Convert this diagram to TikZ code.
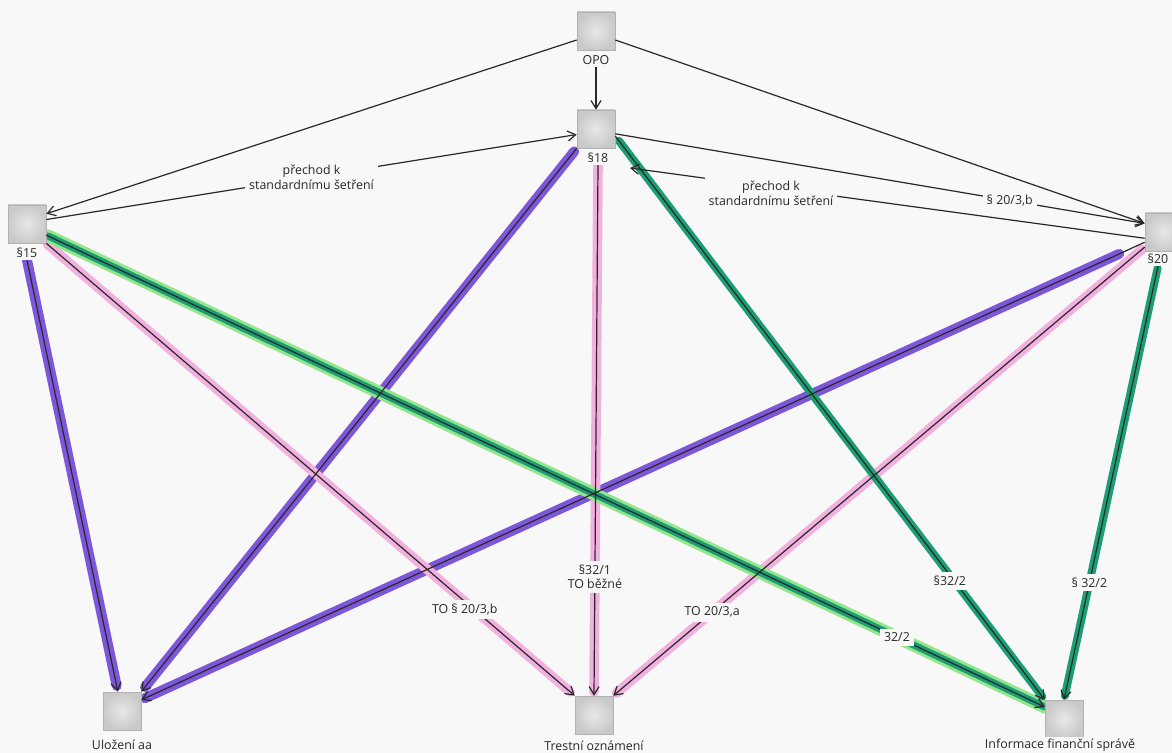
\documentclass[tikz,border=0pt]{standalone}
\usepackage{fontspec}
\setmainfont{Open Sans}
\usetikzlibrary{arrows.meta}
\definecolor{bgc}{RGB}{248,248,248}
\definecolor{hlpurple}{RGB}{126,86,218}
\definecolor{hlpink}{RGB}{242,176,222}
\definecolor{hlgreen}{RGB}{28,158,116}
\definecolor{hllight}{RGB}{150,228,140}
\definecolor{ink}{RGB}{40,40,40}
\pgfdeclarelayer{bglayer}
\pgfdeclarelayer{hllayer}
\pgfsetlayers{bglayer,hllayer,main}
\tikzset{
  box/.style={minimum size=19pt, inner sep=0pt, inner color=gray!18, outer color=gray!42, draw=gray!60, line width=0.3pt},
  boxlabel/.style={font=\fontsize{6.2pt}{7.4pt}\selectfont, text=ink, fill=bgc, inner sep=1pt},
  edgelabel/.style={font=\fontsize{6.2pt}{7.4pt}\selectfont, text=ink, fill=bgc, inner sep=2pt, align=center},
  conn/.style={draw=ink, line width=0.6pt, -{Straight Barb[length=4pt,width=5pt]}},
  hl/.style={line width=#1, line cap=round},
}
\begin{document}
\begin{tikzpicture}[x=0.5pt,y=-0.5pt]
\begin{pgfonlayer}{bglayer}
\fill[bgc] (0,0) rectangle (1172,753);
\end{pgfonlayer}
\useasboundingbox (0,0) rectangle (1172,753);
% boxes
\node[box] (opo) at (596,31) {};
\node[box] (s18) at (596,129) {};
\node[box] (s15) at (27,224) {};
\node[box] (s20) at (1164,232) {};
\node[box] (ulo) at (122,711) {};
\node[box] (tre) at (594,715) {};
\node[box] (inf) at (1064,719) {};
% box labels
\node[boxlabel] (lopo) at (596,60) {OPO};
\node[boxlabel] (l18) at (598,158) {§18};
\node[boxlabel] (l15) at (27,253) {§15};
\node[boxlabel] (l20) at (1158,259) {§20};
\node[boxlabel] (lulo) at (122,745) {Uložení aa};
\node[boxlabel] (ltre) at (594,746) {Trestní oznámení};
\node[boxlabel] (linf) at (1060,745) {Informace finanční správě};
\coordinate (s18x) at (630,168);
% highlights
\begin{pgfonlayer}{hllayer}
\draw[hlpurple, hl=5pt, shorten >=3pt] (l15.south) -- (ulo.102);
\draw[hlpurple, hl=5pt, shorten <=2pt, shorten >=3pt] (s18.south west) -- (ulo.north east);
\draw[hlpurple, hl=5pt, shorten <=14pt, shorten >=2pt] (s20.208) -- (ulo.30);
\draw[hlpink, hl=4.8pt, shorten <=1pt, shorten >=3pt] (s15.south east) -- (tre.north west);
\draw[hlpink, hl=4.8pt, shorten >=2pt] (l18.south) -- (tre.north);
\draw[hlpink, hl=4.8pt, shorten <=2pt, shorten >=2pt] (s20.218) -- (tre.north east);
\draw[hllight, hl=6.5pt, shorten <=1pt] (s15.330) -- (inf.148);
\draw[hlgreen, hl=3.5pt, shorten <=1pt] (s15.330) -- (inf.148);
\draw[hlgreen, hl=4pt, shorten <=3pt, shorten >=2pt] (s18.340) -- (inf.north west);
\draw[hlgreen, hl=4pt, shorten <=1pt, shorten >=2pt] (l20.south) -- (inf.north);
\end{pgfonlayer}
% connectors
\draw[conn] (lopo.south) -- (s18.north);
\draw[conn] (opo.205) -- (s15.28);
\draw[conn] (opo.335) -- (s20.156);
\draw[conn] (s15.13) -- node[edgelabel, pos=0.5] {přechod k\\standardnímu šetření} (s18.196);
\draw[conn] (s18.346) -- node[edgelabel, pos=0.745] {§ 20/3,b} (s20.156);
\draw[conn] (s20.198) -- node[edgelabel, pos=0.726, yshift=-3pt] {přechod k\\standardnímu šetření} (s18x);
\draw[conn] (l15.south) -- (ulo.102);
\draw[conn] (s18.south west) -- (ulo.north east);
\draw[conn] (s20.208) -- (ulo.30);
\draw[conn] (s15.south east) -- node[edgelabel, pos=0.792, yshift=-4pt] {TO § 20/3,b} (tre.north west);
\draw[conn] (l18.south) -- node[edgelabel, pos=0.776] {§32/1\\TO běžné} (tre.north);
\draw[conn] (s20.218) -- node[edgelabel, pos=0.814] {TO 20/3,a} (tre.north east);
\draw[conn] (s15.330) -- node[edgelabel, pos=0.852] {32/2} (inf.148);
\draw[conn] (s18.340) -- node[edgelabel, pos=0.779, yshift=-3pt] {§32/2} (inf.north west);
\draw[conn] (l20.south) -- node[edgelabel, pos=0.73] {§ 32/2} (inf.north);
\end{tikzpicture}
\end{document}
